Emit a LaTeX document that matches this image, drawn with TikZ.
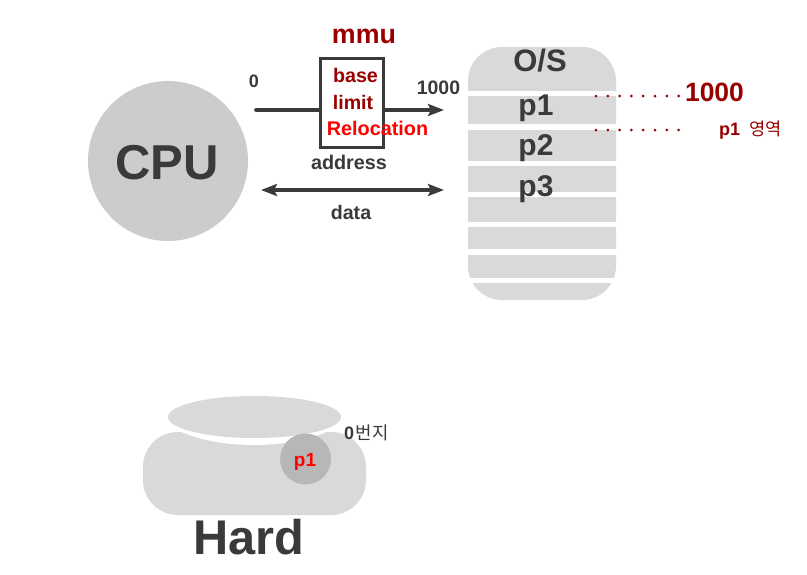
\documentclass[tikz,border=0pt]{standalone}
\usepackage{fontspec}
\setmainfont{Liberation Sans}
\newfontfamily\krfont{Noto Sans CJK KR}
\newcommand{\fsz}[1]{\fontsize{#1}{#1}\selectfont}
\definecolor{ink}{HTML}{3A3A3A}
\definecolor{dred}{HTML}{990000}
\definecolor{lgray}{HTML}{D9D9D9}
\definecolor{mgray}{HTML}{CCCCCC}
\definecolor{pgray}{HTML}{B7B7B7}
\usetikzlibrary{arrows.meta,shapes.geometric}
\tikzset{
  lbl/.style={inner sep=0pt,anchor=base,font=\bfseries\fsz{#1}},
  conn/.style={draw=ink,line width=3.6pt},
  headtip/.tip={Stealth[length=16pt,width=12pt,inset=3pt]},
  dots/.style={draw=dred,line width=3pt,line cap=round,dash pattern=on 0pt off 11.8pt},
  stripe/.style={fill=white,draw=none}
}
\begin{document}
\begin{tikzpicture}[x=1pt,y=-1pt]
\useasboundingbox[fill=white] (0,0) rectangle (807,574);
% CPU
\node (cpu) [circle,fill=mgray,minimum size=160pt,inner sep=0pt] at (168,161) {};
\node (cputext) [lbl=49,text=ink] at (167,179) {CPU};
% memory
\fill[lgray,rounded corners=34pt] (468,47) rectangle (616,300);
\foreach \a/\b in {91/95.5,124/130,161/166,192/197,222/227,249/255,278/283}
  \fill[stripe] (466,\a) rectangle (618,\b);
\node (os) [lbl=31,text=ink] at (540,71) {O/S};
\node (p1) [lbl=30,text=ink] at (536,115) {p1};
\node (p2) [lbl=30,text=ink] at (536,155) {p2};
\node (p3) [lbl=30,text=ink] at (536,196) {p3};
% mmu
\node (mmutext) [lbl=26.8,text=dred] at (364,43) {mmu};
\node (mmu) [draw=ink,line width=3.3pt,minimum width=63pt,minimum height=89pt,inner sep=0pt] at (352,103) {};
\node (base) [lbl=19.7,text=dred] at (355.5,82) {base};
\node (limit) [lbl=19.6,text=dred] at (353,109) {limit};
\node (reloc) [lbl=19.8,text=red] at (377.5,135) {Relocation};
\node (zero) [lbl=18,text=ink] at (254,87) {0};
\node (thousand) [lbl=19.5,text=ink] at (438.5,94) {1000};
\node (address) [lbl=19.8,text=ink] at (349,169) {address};
\node (data) [lbl=19.6,text=ink] at (351,219) {data};
% connectors
\coordinate (inend) at (256,110);
\coordinate (outend) at (444,110);
\coordinate (dl) at (261,190);
\coordinate (dr) at (444,190);
\draw[conn,line cap=round] (inend) -- (inend -| mmu.west);
\draw[conn,-headtip] (outend -| mmu.east) -- (outend);
\draw[conn,headtip-headtip] (dl) -- (dr);
% dots and labels
\coordinate (d1a) at (596,96);
\coordinate (d1b) at (680,96);
\coordinate (d2a) at (596,130);
\coordinate (d2b) at (680,130);
\draw[dots] (d1a) -- (d1b);
\draw[dots] (d2a) -- (d2b);
\node (big) [lbl=26.5,text=dred] at (714.5,101) {1000};
\node (region) [inner sep=0pt,anchor=base west,text=dred] at (719,135) {\bfseries\fsz{18}p1\ \kern4pt\krfont\mdseries\fsz{17.6}영역};
% hard disk
\fill[lgray,rounded corners=35pt] (143,432) rectangle (366,515);
\node (gap) [ellipse,fill=white,minimum width=196pt,minimum height=80pt,inner sep=0pt] at (254,405) {};
\node (platter) [ellipse,fill=lgray,minimum width=173pt,minimum height=42pt,inner sep=0pt] at (254.5,417) {};
\node (pc) [circle,fill=pgray,minimum size=51pt,inner sep=0pt] at (305.5,459) {};
\node (pt) [lbl=19,text=red] at (305,466) {p1};
\node (zb) [inner sep=0pt,anchor=base west,text=ink] at (344,439) {\bfseries\fsz{18}0\kern1.5pt\krfont\mdseries\fsz{17.8}번지};
\node (hard) [lbl=48.7,text=ink] at (248.5,554) {Hard};
\end{tikzpicture}
\end{document}
